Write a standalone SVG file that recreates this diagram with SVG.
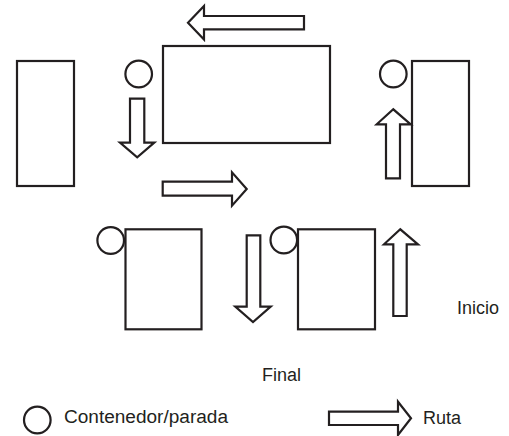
<svg xmlns="http://www.w3.org/2000/svg" width="509" height="436" viewBox="0 0 509 436">
<style>
.s{fill:#fff;stroke:#231f20;stroke-width:2.2}
.t{font-family:"Liberation Sans",Arial,sans-serif;font-size:18px;fill:#231f20}
</style>
<rect width="509" height="436" fill="#fff"/>
<g id="nodes">
<g id="bin-left"><rect class="s" x="17" y="61" width="57" height="125"/></g>
<g id="stop-1"><circle class="s" cx="138.7" cy="74" r="13.3"/></g>
<g id="bin-top"><rect class="s" x="163" y="46" width="167" height="97"/></g>
<g id="stop-2"><circle class="s" cx="393.3" cy="74" r="13.3"/></g>
<g id="bin-right"><rect class="s" x="412" y="61" width="57" height="125"/></g>
<g id="stop-3"><circle class="s" cx="110.7" cy="240.5" r="13.3"/></g>
<g id="bin-bottom-left"><rect class="s" x="125.5" y="229.3" width="76" height="100"/></g>
<g id="stop-4"><circle class="s" cx="283.8" cy="240" r="13.3"/></g>
<g id="bin-bottom-right"><rect class="s" x="298" y="229.3" width="77" height="100"/></g>
</g>
<g id="connectors">
<polygon class="s" points="188,22.7 204,6 204,16 304,16 304,29.3 204,29.3 204,39.4"/>
<polygon class="s" points="130,98.7 144.3,98.7 144.3,142.7 154.3,142.7 137.2,157.3 120,142.7 130,142.7"/>
<polygon class="s" points="162.7,181.7 232,181.7 232,172.3 246.7,189 232,205.7 232,195.7 162.7,195.7"/>
<polygon class="s" points="386,178.3 386,124.3 376.7,124.3 393.3,109.3 410.7,124.3 400,124.3 400,178.3"/>
<polygon class="s" points="246.7,235.3 260.3,235.3 260.3,306.7 270.7,306.7 253,322 235.3,306.7 246.7,306.7"/>
<polygon class="s" points="393.3,316 393.3,244.3 384,244.3 400.3,229.3 418,244.3 406.7,244.3 406.7,316"/>
</g>
<g id="labels">
<text class="t" x="457" y="314">Inicio</text>
<text class="t" x="262" y="381">Final</text>
</g>
<g id="legend">
<circle class="s" cx="37.3" cy="420" r="13.3"/>
<text class="t" x="64" y="423" textLength="164" lengthAdjust="spacingAndGlyphs">Contenedor/parada</text>
<polygon class="s" points="329,411.7 398,411.7 398,401.7 411,418.3 398,435 398,425 329,425"/>
<text class="t" x="423" y="424">Ruta</text>
</g>
</svg>
